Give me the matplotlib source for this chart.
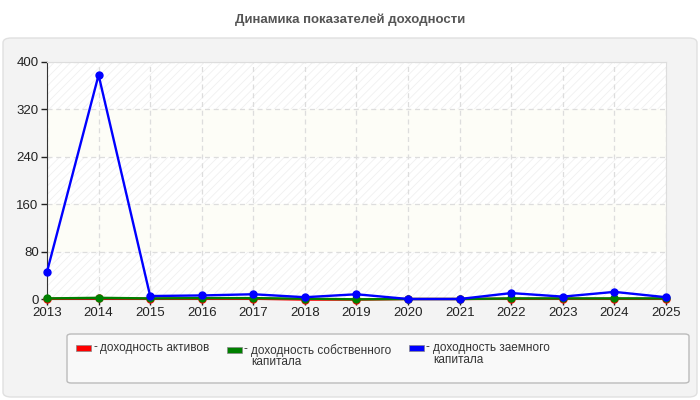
import matplotlib
matplotlib.use('Agg')
from matplotlib import pyplot as plt
from matplotlib.patches import FancyBboxPatch, Rectangle

plt.rcParams['font.family'] = ['Liberation Sans', 'DejaVu Sans']
plt.rcParams['hatch.linewidth'] = 0.6

years = [2013, 2014, 2015, 2016, 2017, 2018, 2019, 2020, 2021, 2022, 2023, 2024, 2025]
assets = [0.5, 1, 0.5, 0.5, 0.5, -1, -1, 0, 0, 0.5, 0.5, 0.5, 0.5]
equity = [1, 2, 1, 1.5, 1.5, 0.5, -0.5, 0, 0, 1, 1, 1, 1]
borrowed = [46, 378, 5, 6, 8, 3, 8, 0, 0, 10, 4, 12, 3]
y_ticks = [0, 80, 160, 240, 320, 400]

labels = ['доходность активов', 'доходность собственного\nкапитала',
          'доходность заемного\nкапитала']
colors = ['#ff0000', '#008000', '#0000ff']

W, H = 700, 400
fig = plt.figure(figsize=(7, 4), dpi=100)
fig.patch.set_facecolor('white')

# grey panel behind chart
panel = FancyBboxPatch((3 / W, 3 / H), 694 / W, 359 / H, boxstyle='round,pad=0,rounding_size=0.012',
                       transform=fig.transFigure, facecolor='#f3f3f3', edgecolor='#e0e0e0',
                       linewidth=1, zorder=-5)
fig.patches.append(panel)

fig.text(0.5, 1 - 20 / H, 'Динамика показателей доходности', ha='center', va='center',
         fontsize=9.5, fontweight='bold', color='#555555')

ax = fig.add_axes([47 / W, 1 - 299 / H, 619 / W, 237 / H])
ax.set_zorder(1)
ax.set_facecolor('white')
for i in range(len(y_ticks) - 1):
    if i % 2 == 0:
        ax.axhspan(y_ticks[i], y_ticks[i + 1], facecolor='white', edgecolor='#f0f0f0',
                   hatch='////', linewidth=0, zorder=0)
    else:
        ax.axhspan(y_ticks[i], y_ticks[i + 1], facecolor='#fdfdf7', linewidth=0, zorder=0)

ax.grid(True, color='#dddddd', linestyle=(0, (4, 3)), linewidth=0.9, zorder=1)
ax.set_axisbelow(True)

for vals, c in zip([assets, equity, borrowed], colors):
    ax.plot(years, vals, color=c, linewidth=1.7, marker='o', markersize=5, clip_on=False, zorder=3)

ax.set_xlim(2013, 2025)
ax.set_ylim(0, 400)
ax.set_xticks(years)
ax.set_yticks(y_ticks)
ax.tick_params(labelsize=9.5, colors='#222222', length=4, width=1, pad=2)
ax.spines['left'].set_color('#333333')
ax.spines['bottom'].set_color('#333333')
ax.spines['top'].set_color('#dddddd')
ax.spines['right'].set_color('#dddddd')

# legend box
leg = FancyBboxPatch((67 / W, 1 - 383 / H), 622 / W, 49 / H, boxstyle='round,pad=0,rounding_size=0.006',
                     transform=fig.transFigure, facecolor='#f9f9f9', edgecolor='#bbbbbb',
                     linewidth=1, zorder=1)
fig.patches.append(leg)
swatch_x = [76, 227, 409]
swatch_y = [345, 347, 345]
for sx, sy, lab, c in zip(swatch_x, swatch_y, labels, colors):
    fig.patches.append(Rectangle((sx / W, 1 - (sy + 6) / H), 15 / W, 6 / H, transform=fig.transFigure,
                                 facecolor=c, edgecolor='#888888', linewidth=0.5, zorder=2))
    fig.text((sx + 17) / W, 1 - (sy - 4) / H, '-', ha='left', va='top', fontsize=8.5, color='#333333')
    fig.text((sx + 24) / W, 1 - (sy - 3) / H, lab, ha='left', va='top', fontsize=8.5,
             color='#333333', linespacing=0.95)

plt.savefig('out.png', dpi=100)
